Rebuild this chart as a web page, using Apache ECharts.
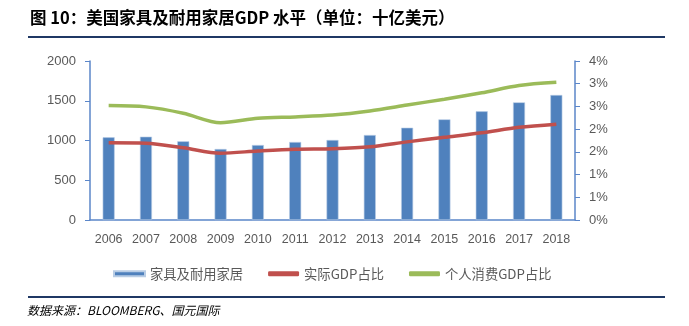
<!DOCTYPE html>
<html>
<head>
<meta charset="utf-8">
<script src="https://cdn.jsdelivr.net/npm/echarts@6/dist/echarts.min.js"></script>
<style>
html,body{margin:0;padding:0;background:#fff;}
#c{width:689px;height:326px;}
</style>
</head>
<body>
<div id="c"></div>
<script>
const categories = ['2006','2007','2008','2009','2010','2011','2012','2013','2014','2015','2016','2017','2018'];
const furnitureGDP = [1040,1048,990,893,943,981,1006,1069,1161,1266,1367,1480,1572];
const realGDPShare = [1.70,1.69,1.59,1.47,1.52,1.56,1.57,1.61,1.72,1.82,1.92,2.04,2.11];
const consumptionGDPShare = [2.52,2.49,2.35,2.14,2.24,2.27,2.31,2.40,2.53,2.66,2.80,2.96,3.03];
const leftTicks = [0,500,1000,1500,2000];
const rightTickLabels = ['0%','1%','1%','2%','2%','3%','3%','4%'];
const seriesNames = ['家具及耐用家居','实际GDP占比','个人消费GDP占比'];
const titleText = '图 10：美国家具及耐用家居GDP 水平（单位：十亿美元）';
const sourceText = '数据来源：BLOOMBERG、国元国际';

const chart = echarts.init(document.getElementById('c'), null, {renderer:'canvas'});
const axisColor = '#5B86C9';
const labelColor = '#595959';
const font = '"Liberation Sans", Arial, sans-serif';
const cjk = '"Noto Sans CJK SC", sans-serif';
chart.setOption({
  animation:false,
  backgroundColor:'#fff',
  graphic:[
    {type:'text', left:30, top:9, style:{text:titleText, font:'bold 16.5px "Noto Sans CJK SC", sans-serif', fill:'#000'}},
    {type:'rect', shape:{x:28,y:36,width:637,height:2}, style:{fill:'#1F3864'}},
    {type:'rect', shape:{x:28,y:296,width:637,height:2}, style:{fill:'#1F3864'}},
    {type:'text', left:27, top:304, style:{text:sourceText, font:'italic 12px "Noto Sans CJK SC", sans-serif', fill:'#000'}}
  ],
  grid:{left:90, right:114, top:61, bottom:106},
  legend:{
    left:108, top:262, itemGap:25, itemWidth:31, itemHeight:5,
    textStyle:{fontFamily:cjk, fontSize:13.3, color:labelColor},
    data:[
      {name:seriesNames[0], icon:'rect'},
      {name:seriesNames[1], icon:'roundRect'},
      {name:seriesNames[2], icon:'roundRect'}
    ]
  },
  xAxis:{
    type:'category', data:categories,
    axisLine:{lineStyle:{color:axisColor, width:1.5}},
    axisTick:{show:false},
    axisLabel:{color:labelColor, fontFamily:font, fontSize:12.5, margin:13}
  },
  yAxis:[
    {
      type:'value', min:leftTicks[0], max:leftTicks[leftTicks.length-1], interval:500,
      splitLine:{show:false},
      axisLine:{show:true, lineStyle:{color:axisColor, width:1.5}},
      axisTick:{show:true, length:5, lineStyle:{color:axisColor}},
      axisLabel:{color:labelColor, fontFamily:font, fontSize:13, margin:14,
        formatter:function(v){ return String(v); }}
    },
    {
      type:'value', min:0, max:3.5, interval:0.5,
      splitLine:{show:false},
      axisLine:{show:true, lineStyle:{color:axisColor, width:1.5}},
      axisTick:{show:true, length:5, lineStyle:{color:axisColor}},
      axisLabel:{color:labelColor, fontFamily:font, fontSize:13, margin:14,
        formatter:function(v){ return rightTickLabels[Math.round(v/0.5)]; }}
    }
  ],
  series:[
    {name:seriesNames[0], type:'bar', data:furnitureGDP, barWidth:12, yAxisIndex:0,
      itemStyle:{color:'#4F81BD', borderColor:'#B9CDE5', borderWidth:0.6}},
    {name:seriesNames[1], type:'line', data:realGDPShare, yAxisIndex:1, smooth:0.3,
      symbol:'none', lineStyle:{color:'#C0504D', width:3.5}, itemStyle:{color:'#C0504D'}},
    {name:seriesNames[2], type:'line', data:consumptionGDPShare, yAxisIndex:1, smooth:0.3,
      symbol:'none', lineStyle:{color:'#9BBB59', width:3.5}, itemStyle:{color:'#9BBB59'}}
  ]
});
</script>
</body>
</html>
